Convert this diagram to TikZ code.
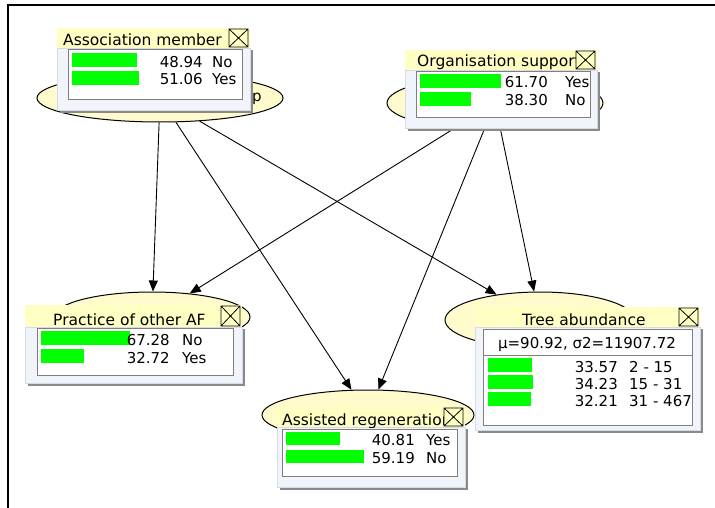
\documentclass[tikz,border=0pt]{standalone}
\usepackage{fontspec}
\setmainfont{DejaVu Sans}
\usetikzlibrary{shapes.geometric,arrows.meta}
\definecolor{ellfill}{HTML}{FFFBCC}
\definecolor{titlefill}{HTML}{FFFFC4}
\definecolor{panelfill}{HTML}{F1F4FA}
\definecolor{paneledge}{HTML}{D5DBE6}
\definecolor{shadowc}{HTML}{8A8A8A}
\definecolor{innerline}{HTML}{7F7F7F}
\definecolor{barfill}{HTML}{00FF00}
\tikzset{
  bel/.style={ellipse, draw=black, fill=ellfill, line width=1pt, inner sep=0pt},
  edge/.style={-{Triangle[length=11pt,width=9pt]}, line width=0.9pt},
  ttl/.style={font=\fontsize{15.5}{16}\selectfont, inner sep=0pt, anchor=base west},
  vnum/.style={font=\fontsize{15}{16}\selectfont, inner sep=0pt, anchor=base east},
  vlab/.style={font=\fontsize{15}{16}\selectfont, inner sep=0pt, anchor=base west},
  innerbox/.style={fill=white, draw=innerline, line width=1pt},
  xboxst/.style={draw=black, line width=0.8pt},
  barst/.style={fill=barfill},
  frame/.style={line width=2pt, line cap=rect}
}
% #1 L, #2 R, #3 title top, #4 panel top, #5 panel bottom, #6 inner L, #7 inner R, #8 inner T, #9 inner B
\newcommand{\monpanel}[9]{%
  \fill[shadowc] (#1+3,#4+2) rectangle (#2+3,#5+3);
  \fill[panelfill, draw=paneledge, line width=0.6pt] (#1,#4) rectangle (#2,#5);
  \fill[titlefill] (#1,#3) rectangle (#2,#4);
  \draw[innerbox] (#6,#8) rectangle (#7,#9);
  \draw[xboxst] (#2-21,#3+1) rectangle (#2-2,#4-1)
        (#2-21,#3+1) -- (#2-2,#4-1) (#2-21,#4-1) -- (#2-2,#3+1);
}
\begin{document}
\begin{tikzpicture}[x=1pt, y=-1pt]
\useasboundingbox (0,0) rectangle (715,508);
\fill[white] (0,0) rectangle (715,508);
\draw[frame] (7.5,508) -- (7.5,5) -- (715,5);

% belief ellipses
\node[bel, minimum width=246pt, minimum height=48pt] (assoc) at (160,98) {};
\node[bel, minimum width=216pt, minimum height=54pt] (org) at (495,103) {};
\node[bel, minimum width=196pt, minimum height=50pt] (prac) at (152,317) {};
\node[bel, minimum width=190pt, minimum height=56pt] (tree) at (540,320) {};
\node[bel, minimum width=212pt, minimum height=50pt] (assist) at (368,415) {};
\node[vlab] (assocp) at (252,102) {p};

% links
\draw[edge] (assoc) -- (prac);
\draw[edge] (assoc) -- (assist);
\draw[edge] (assoc) -- (tree);
\draw[edge] (org) -- (prac);
\draw[edge] (org) -- (assist);
\draw[edge] (org) -- (tree);

% ---------- Association membership monitor
\monpanel{57}{250}{28}{48}{110}{68}{242}{50}{100}
\node[ttl] (t1) at (63,46) {Association member};
\fill[barst] (72,53) rectangle ++(1.32*48.94,14);
\fill[barst] (72,71) rectangle ++(1.32*51.06,14);
\node[vnum] (a1) at (203,68) {48.94};
\node[vlab] (a1l) at (212,68) {No};
\node[vnum] (a2) at (203,85) {51.06};
\node[vlab] (a2l) at (212,85) {Yes};

% ---------- Organisation support monitor
\monpanel{405}{597}{50}{70}{128}{416}{590}{72}{118}
\begin{scope}
\clip (405,50) rectangle (575,70);
\node[ttl] (t2) at (417,67) {Organisation support};
\end{scope}
\fill[barst] (420,74) rectangle ++(1.32*61.70,14);
\fill[barst] (420,92) rectangle ++(1.32*38.30,14);
\node[vnum] (b1) at (548,88) {61.70};
\node[vlab] (b1l) at (565,88) {Yes};
\node[vnum] (b2) at (548,106) {38.30};
\node[vlab] (b2l) at (565,106) {No};

% ---------- Practice of other AF monitor
\monpanel{25}{242}{305}{327}{383}{37}{233}{328}{375}
\node[ttl] (t3) at (53,325) {Practice of other AF};
\fill[barst] (41,331) rectangle ++(1.32*67.28,14);
\fill[barst] (41,349) rectangle ++(1.32*32.72,14);
\node[vnum] (c1) at (170,345) {67.28};
\node[vlab] (c1l) at (182,345) {No};
\node[vnum] (c2) at (170,363) {32.72};
\node[vlab] (c2l) at (182,363) {Yes};

% ---------- Tree abundance monitor
\monpanel{475}{700}{307}{327}{430}{483}{692}{329}{425}
\node[ttl] (t4) at (522,325) {Tree abundance};
\draw[innerline, line width=1pt] (483,355) -- (692,355);
\node[vlab, anchor=base] (mu) at (587,348) {μ=90.92, σ2=11907.72};
\fill[barst] (488,358) rectangle ++(1.32*33.57,14);
\fill[barst] (488,375) rectangle ++(1.32*34.23,14);
\fill[barst] (488,392) rectangle ++(1.32*32.21,14);
\node[vnum] (d1) at (618,372) {33.57};
\node[vlab] (d1l) at (629,372) {2 - 15};
\node[vnum] (d2) at (618,389) {34.23};
\node[vlab] (d2l) at (629,389) {15 - 31};
\node[vnum] (d3) at (618,406) {32.21};
\node[vlab] (d3l) at (629,406) {31 - 467};

% ---------- Assisted regeneration monitor
\monpanel{277}{465}{407}{427}{487}{282}{457}{429}{476}
\begin{scope}
\clip (277,407) rectangle (443,427);
\node[ttl] (t5) at (282,425) {Assisted regeneration};
\end{scope}
\fill[barst] (286,432) rectangle ++(1.32*40.81,13);
\fill[barst] (286,450) rectangle ++(1.32*59.19,13);
\node[vnum] (e1) at (415,445) {40.81};
\node[vlab] (e1l) at (426,445) {Yes};
\node[vnum] (e2) at (415,463) {59.19};
\node[vlab] (e2l) at (426,463) {No};
\end{tikzpicture}
\end{document}
